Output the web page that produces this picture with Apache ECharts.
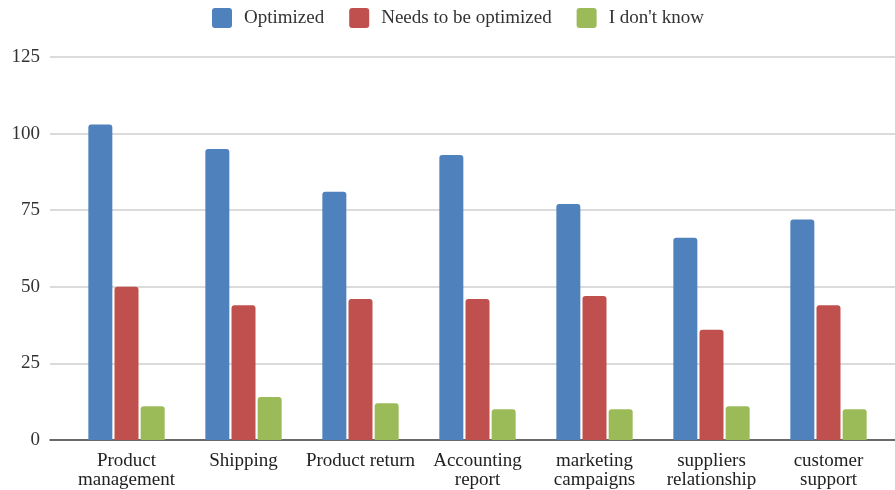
<!DOCTYPE html>
<html>
<head>
<meta charset="utf-8">
<script src="https://cdn.jsdelivr.net/npm/echarts@6/dist/echarts.min.js"></script>
<style>html,body{margin:0;padding:0;background:#fff}#c{width:895px;height:490px}</style>
</head>
<body>
<div id="c"></div>
<script>
const categories = ['Product\nmanagement', 'Shipping', 'Product return', 'Accounting\nreport', 'marketing\ncampaigns', 'suppliers\nrelationship', 'customer\nsupport'];
const seriesNames = ['Optimized', 'Needs to be optimized', "I don't know"];
const optimized = [103, 95, 81, 93, 77, 66, 72];
const needsOptimized = [50, 44, 46, 46, 47, 36, 44];
const dontKnow = [11, 14, 12, 10, 10, 11, 10];
const yTicks = { min: 0, max: 125, interval: 25 };

const font = '"Liberation Serif", "DejaVu Serif", serif';
const colors = ['#4F81BD', '#C0504D', '#9BBB59'];
const chart = echarts.init(document.getElementById('c'));
const mk = (name, data, color) => ({
  name, type: 'bar', xAxisIndex: 1, yAxisIndex: 1, data,
  barWidth: 24, barGap: '9%',
  itemStyle: { color, borderRadius: [3, 3, 0, 0] }
});
const icon = 'path://M3,0 H17 A3,3 0 0 1 20,3 V17 A3,3 0 0 1 17,20 H3 A3,3 0 0 1 0,17 V3 A3,3 0 0 1 3,0 Z';
chart.setOption({
  animation: false,
  color: colors,
  textStyle: { fontFamily: font },
  legend: {
    top: 3, left: 207, itemWidth: 20, itemHeight: 20, itemGap: 25,
    icon,
    textStyle: { fontFamily: font, fontSize: 19, color: '#333', padding: [0, 0, 0, 7] },
    data: seriesNames
  },
  grid: [
    { left: 50, right: 0, top: 57, bottom: 50 },
    { left: 68, right: 8, top: 57, bottom: 50 }
  ],
  xAxis: [
    { gridIndex: 0, type: 'value', min: 0, max: 1, axisLine: { show: true, lineStyle: { color: '#444', width: 1.5 } },
      axisTick: { show: false }, axisLabel: { show: false }, splitLine: { show: false } },
    { gridIndex: 1, type: 'category', data: categories, axisLine: { show: false }, axisTick: { show: false },
      axisLabel: { fontFamily: font, fontSize: 19, color: '#222', margin: 12, lineHeight: 19, interval: 0 } }
  ],
  yAxis: [
    { gridIndex: 0, type: 'value', min: yTicks.min, max: yTicks.max, interval: yTicks.interval,
      axisLine: { show: false }, axisTick: { show: false },
      axisLabel: { fontFamily: font, fontSize: 19, color: '#333', margin: 10 },
      splitLine: { lineStyle: { color: '#cfcfcf', width: 1.5 } } },
    { gridIndex: 1, type: 'value', min: yTicks.min, max: yTicks.max, interval: yTicks.interval, show: false, splitLine: { show: false } }
  ],
  series: [
    mk(seriesNames[0], optimized, colors[0]),
    mk(seriesNames[1], needsOptimized, colors[1]),
    mk(seriesNames[2], dontKnow, colors[2])
  ]
});
</script>
</body>
</html>
